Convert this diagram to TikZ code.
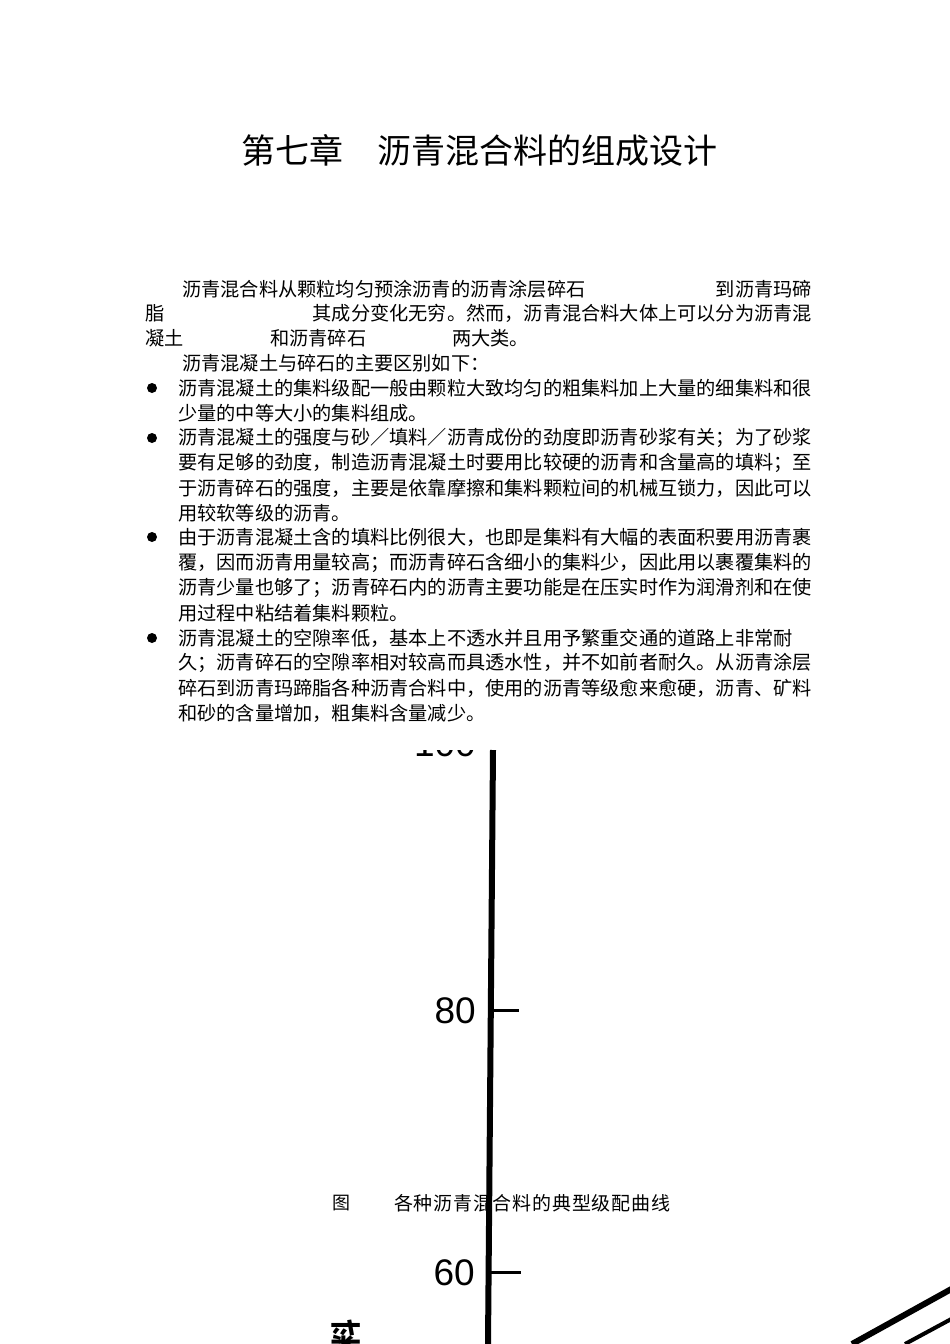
\documentclass[tikz,border=0pt]{standalone}
\usepackage{fontspec}
\setmainfont{Liberation Serif}
\newfontfamily\cjk{Noto Sans CJK SC}
\newfontfamily\cjkcap[LetterSpace=4]{Noto Sans CJK SC}
\newfontfamily\axf{Liberation Sans}
\begin{document}
\begin{tikzpicture}[x=1pt,y=-1pt,
  body/.style={anchor=west,inner sep=0pt,font=\cjk\fontsize{19.2}{20}\selectfont},
  axlab/.style={anchor=east,inner sep=0pt,font=\axf\fontsize{37}{37}\selectfont},
  bul/.style={circle,fill=black,inner sep=0pt,minimum size=10pt}]
\useasboundingbox (0,0) rectangle (950,1344);
\clip (0,0) rectangle (950,1344);
\node[inner sep=0pt,font=\cjk\fontsize{34}{35}\selectfont] (title) at (479,150) {第七章\hspace{1em}沥青混合料的组成设计};
% paragraph
\node[body] (l1a) at (182,289) {沥青混合料从颗粒均匀预涂沥青的沥青涂层碎石};
\node[body,anchor=east] (l1b) at (812,289) {到沥青玛碲};
\node[body] (l2a) at (145,313) {脂};
\node[body,anchor=east] (l2b) at (812,313) {其成分变化无穷。然而，沥青混合料大体上可以分为沥青混};
\node[body] (l3a) at (145,338) {凝土};
\node[body] (l3b) at (270,338) {和沥青碎石};
\node[body] (l3c) at (452,338) {两大类。};
\node[body] (l4) at (182,363) {沥青混凝土与碎石的主要区别如下：};
% bullets
\node[bul] (b1) at (152,388) {};
\node[body] (t1) at (178,388) {沥青混凝土的集料级配一般由颗粒大致均匀的粗集料加上大量的细集料和很};
\node[body] (t2) at (178,413) {少量的中等大小的集料组成。};
\node[bul] (b2) at (152,438) {};
\node[body] (t3) at (178,438) {沥青混凝土的强度与砂／填料／沥青成份的劲度即沥青砂浆有关；为了砂浆};
\node[body] (t4) at (178,463) {要有足够的劲度，制造沥青混凝土时要用比较硬的沥青和含量高的填料；至};
\node[body] (t5) at (178,488) {于沥青碎石的强度，主要是依靠摩擦和集料颗粒间的机械互锁力，因此可以};
\node[body] (t6) at (178,513) {用较软等级的沥青。};
\node[bul] (b3) at (152,537) {};
\node[body] (t7) at (178,537) {由于沥青混凝土含的填料比例很大，也即是集料有大幅的表面积要用沥青裹};
\node[body] (t8) at (178,563) {覆，因而沥青用量较高；而沥青碎石含细小的集料少，因此用以裹覆集料的};
\node[body] (t9) at (178,588) {沥青少量也够了；沥青碎石内的沥青主要功能是在压实时作为润滑剂和在使};
\node[body] (t10) at (178,613) {用过程中粘结着集料颗粒。};
\node[bul] (b4) at (152,638) {};
\node[body] (t11) at (178,638) {沥青混凝土的空隙率低，基本上不透水并且用予繁重交通的道路上非常耐};
\node[body] (t12) at (178,663) {久；沥青碎石的空隙率相对较高而具透水性，并不如前者耐久。从沥青涂层};
\node[body] (t13) at (178,688) {碎石到沥青玛蹄脂各种沥青合料中，使用的沥青等级愈来愈硬，沥青、矿料};
\node[body] (t14) at (178,713) {和砂的含量增加，粗集料含量减少。};
% chart
\begin{scope}
\clip (0,750) rectangle (950,1344);
\node[axlab] (y100) at (476,744) {100};
\end{scope}
\coordinate (axtop) at (493,750);
\coordinate (axbot) at (488,1344);
\draw[line width=6pt] (axtop) -- (axbot);
\coordinate (k80) at (491,1010);
\coordinate (k80e) at (519,1010);
\coordinate (k60) at (489,1272);
\coordinate (k60e) at (521,1272);
\draw[line width=3pt] (k80) -- (k80e);
\draw[line width=3pt] (k60) -- (k60e);
\node[axlab] (y80) at (476,1011) {80};
\node[axlab] (y60) at (475,1273) {60};
\node[inner sep=0pt,rotate=90,font=\cjk\bfseries\fontsize{30}{30}\selectfont] (ylab) at (346,1334) {料};
\coordinate (c1a) at (852,1344);
\coordinate (c1b) at (955,1287);
\coordinate (c2a) at (905,1344);
\coordinate (c2b) at (955,1317);
\draw[line width=6pt] (c1a) -- (c1b);
\draw[line width=4pt] (c2a) -- (c2b);
\node[inner sep=0pt,anchor=west,font=\cjk\fontsize{18}{20}\selectfont] (capfig) at (332,1203) {图};
\node[inner sep=0pt,anchor=west,font=\cjkcap\fontsize{19}{20}\selectfont] (cap) at (394,1203) {各种沥青混合料的典型级配曲线};
\end{tikzpicture}
\end{document}
